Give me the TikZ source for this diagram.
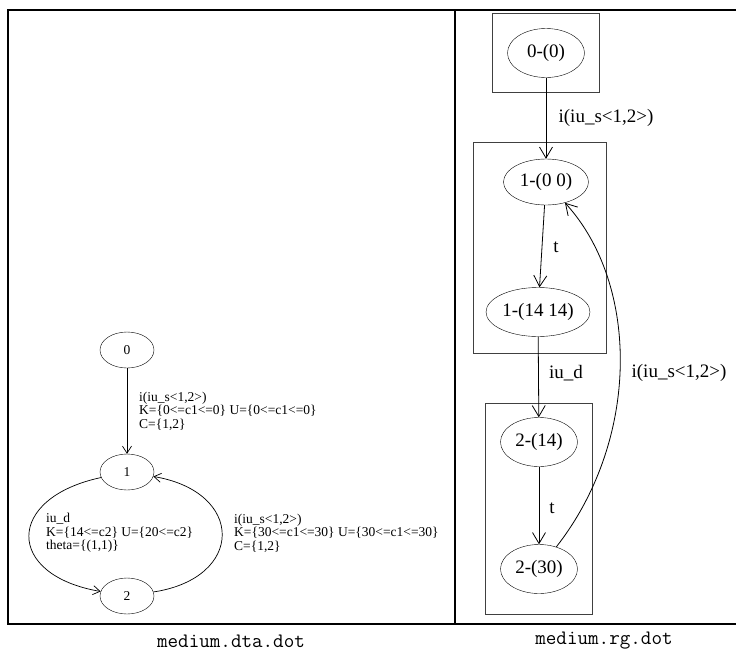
\documentclass[tikz,border=0pt]{standalone}
\usepackage{fontspec}
\setmainfont{Liberation Serif}
\usetikzlibrary{shapes.geometric,arrows.meta}

\tikzset{
  dstate/.style={ellipse,draw,minimum width=54pt,minimum height=36pt,inner sep=0pt,font=\fontsize{13.5}{13.5}\selectfont},
  rstate/.style={ellipse,draw,minimum width=77pt,minimum height=49pt,inner sep=0pt,font=\fontsize{19}{22}\selectfont},
  dlabel/.style={align=left,anchor=west,inner sep=0pt,font=\fontsize{13.5}{13.5}\selectfont},
  rlabel/.style={inner sep=0pt,font=\fontsize{19}{22}\selectfont},
  dedge/.style={-{Straight Barb[length=7pt,width=9pt]},line width=0.7pt},
  redge/.style={-{Straight Barb[length=11pt,width=13pt]},line width=0.8pt},
  cluster/.style={draw=black!75,line width=0.9pt},
  frame/.style={line width=2.6pt},
  caption/.style={font=\ttfamily\fontsize{20.5}{22}\selectfont}
}

\begin{document}
\begin{tikzpicture}[x=1pt,y=-1pt]
\useasboundingbox (0,0) rectangle (736,654);

% frame
\draw[frame] (8,624) -- (8,10) -- (736,10);
\draw[frame] (455,10) -- (455,624);
\draw[frame] (7,624) -- (736,624);

% medium.dta.dot
\node[dstate] (d0) at (127,350) {0};
\node[dstate] (d1) at (127,472) {1};
\node[dstate] (d2) at (127,596) {2};
\draw[dedge] (d0) -- (d1);
\draw[dedge] (d1) .. controls (5,498) and (5,575) .. (d2);
\draw[dedge] (d2) .. controls (245,578) and (245,492) .. (d1);
\node[dlabel] (l01) at (139,411) {i(iu\_s<1,2>)\\K=\{0<=c1<=0\} U=\{0<=c1<=0\}\\C=\{1,2\}};
\node[dlabel] (l12) at (46,533) {iu\_d\\K=\{14<=c2\} U=\{20<=c2\}\\theta=\{(1,1)\}};
\node[dlabel] (l21) at (234,533) {i(iu\_s<1,2>)\\K=\{30<=c1<=30\} U=\{30<=c1<=30\}\\C=\{1,2\}};

% medium.rg.dot
\draw[cluster] (492,13) rectangle (599,92);
\draw[cluster] (473,142) rectangle (606,353);
\draw[cluster] (485,403) rectangle (592,614);
\node[rstate] (r0) at (546,53) {0-(0)};
\node[rstate,minimum width=85pt,minimum height=46pt] (r100) at (546,182) {1-(0 0)};
\node[rstate,minimum width=104pt] (r114) at (538,312) {1-(14 14)};
\node[rstate] (r214) at (539,442) {2-(14)};
\node[rstate] (r230) at (539,569) {2-(30)};
\draw[redge] (r0) -- (r100);
\draw[redge] (r100) -- (r114);
\draw[redge] (r114) -- (r214);
\draw[redge] (r214) -- (r230);
\draw[redge] (r230) .. controls (640,440) and (640,285) .. (r100);
\node[rlabel] (e0) at (606,118) {i(iu\_s<1,2>)};
\node[rlabel] (e1) at (556,247) {t};
\node[rlabel] (e2) at (566,373) {iu\_d};
\node[rlabel] (e3) at (679,373) {i(iu\_s<1,2>)};
\node[rlabel] (e4) at (552,508) {t};

% captions
\node[caption] (c1) at (231,641) {medium.dta.dot};
\node[caption] (c2) at (604,641) {medium.rg.dot};
\end{tikzpicture}
\end{document}
